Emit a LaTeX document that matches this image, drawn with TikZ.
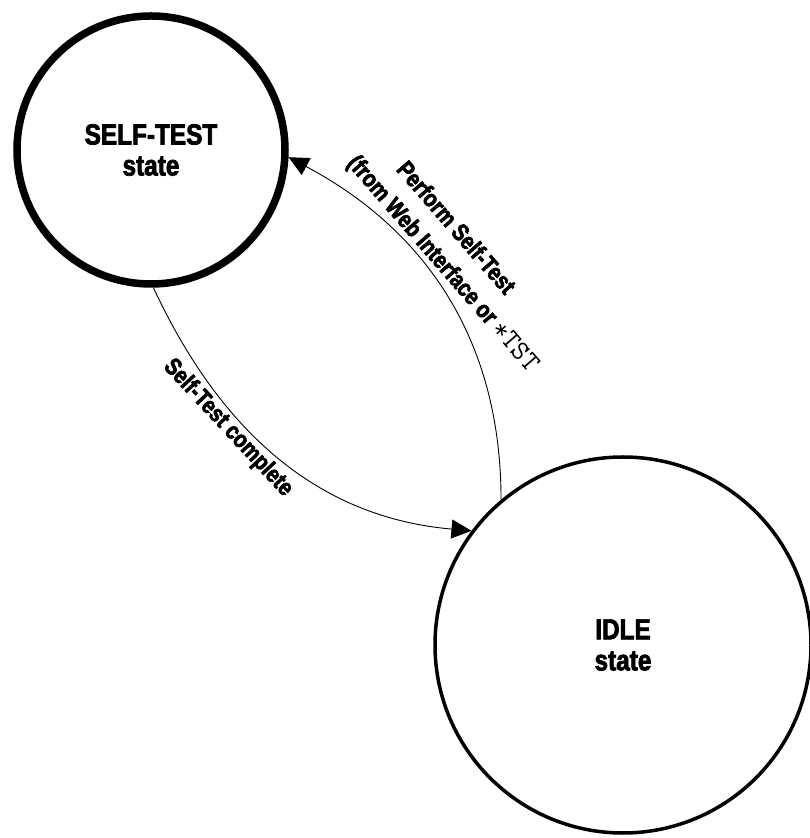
\documentclass[tikz,border=0pt]{standalone}
\usepackage{fontspec}
\setmainfont{Liberation Sans}[FakeStretch=0.84, BoldFeatures={FakeBold=2.5}]
\usetikzlibrary{arrows.meta,positioning}
\tikzset{
  every picture/.style={line width=0.9pt},
  sState/.style={circle, draw, inner sep=0pt, align=center,
                 font=\fontsize{29}{31}\selectfont\bfseries},
  sSelf/.style={sState, line width=7.5pt, minimum size=268pt},
  sIdle/.style={sState, line width=3.5pt, minimum size=376pt},
  sTrans/.style={-{Triangle[length=20pt,width=19pt]}, line width=0.9pt},
  sLbl/.style={font=\fontsize{24}{33}\selectfont\bfseries, inner sep=0pt},
}
\newcommand{\tstcmd}{{\fontsize{28}{28}\selectfont\mdseries\ttfamily *TST}}

\begin{document}
\begin{tikzpicture}[x=1pt, y=1pt]
  \useasboundingbox (0,0) rectangle (809,838);
  \node[sSelf] (self) at (151,688) {SELF-TEST\\state};
  \node[sIdle] (idle) at (623,193) {IDLE\\state};
  % transitions
  \draw[sTrans] (self.-89) to[out=-65, in=175] (idle.143);
  \draw[sTrans] (idle.130) to[out=90, in=-28] (self.-3);
  \node[sLbl, rotate=-47] (donelbl) at (228,410) {Self-Test complete};
  \node[sLbl, rotate=-49, align=left, anchor=south west] (perflbl)
        at (342,671) {\hspace*{37pt}Perform Self-Test\\
                      (from Web Interface or \tstcmd};
\end{tikzpicture}
\end{document}
